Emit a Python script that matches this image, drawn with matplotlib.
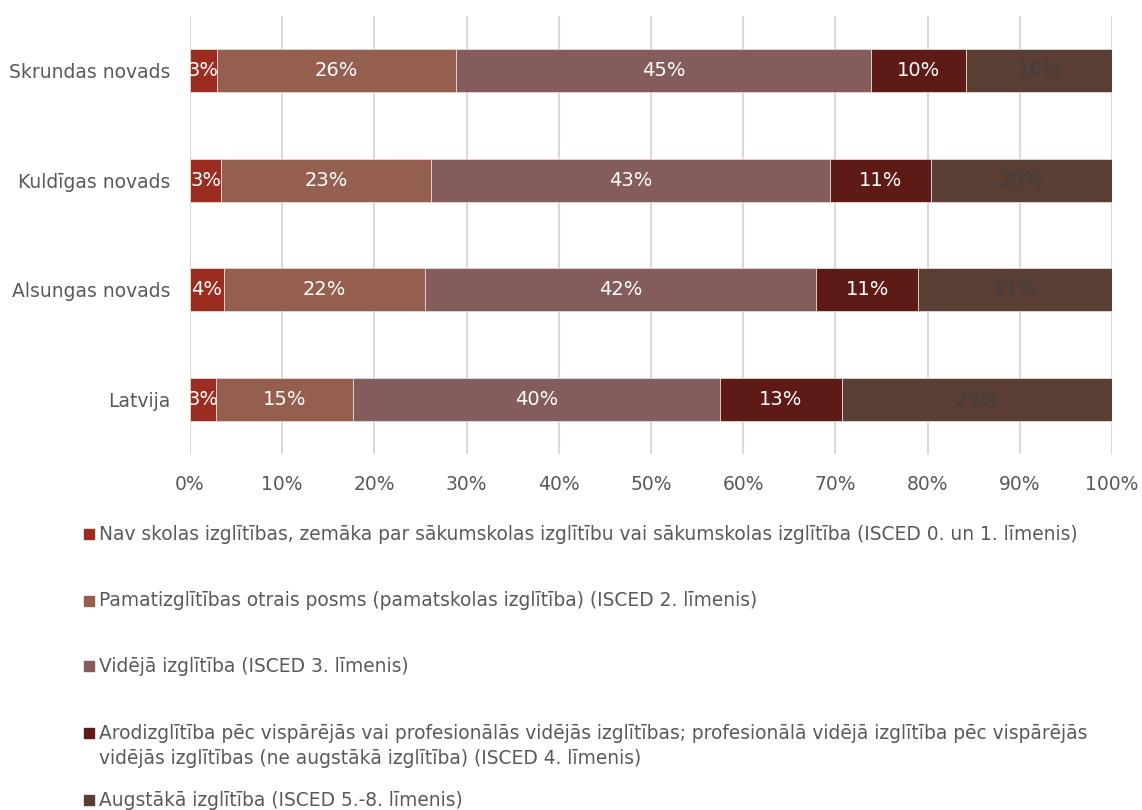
import numpy as np
import matplotlib.pyplot as plt
from matplotlib.patches import Rectangle

plt.rcParams['font.family'] = ['DejaVu Sans']

regions = ['Skrundas novads', 'Kuldīgas novads', 'Alsungas novads', 'Latvija']

levels = [
    'Nav skolas izglītības, zemāka par sākumskolas izglītību vai sākumskolas izglītība (ISCED 0. un 1. līmenis)',
    'Pamatizglītības otrais posms (pamatskolas izglītība) (ISCED 2. līmenis)',
    'Vidējā izglītība (ISCED 3. līmenis)',
    'Arodizglītība pēc vispārējās vai profesionālās vidējās izglītības; profesionālā vidējā izglītība pēc vispārējās\nvidējās izglītības (ne augstākā izglītība) (ISCED 4. līmenis)',
    'Augstākā izglītība (ISCED 5.-8. līmenis)',
]

# shares in percent, order follows regions
no_school = [2.9, 3.4, 3.7, 2.8]
basic = [26.0, 22.7, 21.8, 14.9]
secondary = [45.0, 43.3, 42.4, 39.8]
vocational = [10.3, 11.0, 11.1, 13.2]
higher = [15.8, 19.6, 21.0, 29.3]

colors = ['#9b2d20', '#955f4f', '#845c5c', '#5e1b15', '#5a3d33']
label_colors = ['white', 'white', 'white', 'white', '#404040']

fig = plt.figure(figsize=(11.42, 8.1), dpi=100)
ax = fig.add_axes([190 / 1142, 1 - 454 / 810, 922 / 1142, 438 / 810])

series = [no_school, basic, secondary, vocational, higher]
y = np.arange(len(regions))[::-1]
left = np.zeros(len(regions))
for vals, col, lcol in zip(series, colors, label_colors):
    vals = np.array(vals)
    ax.barh(y, vals, left=left, height=0.39, color=col, edgecolor='#e8d8d4', linewidth=0.6, zorder=3)
    for yi, l, v in zip(y, left, vals):
        ax.text(l + v / 2, yi, '%d%%' % round(v), ha='center', va='center', color=lcol, fontsize=14, zorder=4)
    left += vals

ax.set_xlim(0, 100)
ax.set_ylim(-0.5, len(regions) - 0.5)
ax.set_xticks(np.arange(0, 101, 10))
ax.set_xticklabels(['%d%%' % t for t in range(0, 101, 10)])
ax.set_yticks(y)
ax.set_yticklabels(regions)
ax.tick_params(axis='both', length=0, labelsize=13.5, colors='#595959')
ax.tick_params(axis='x', pad=15)
ax.tick_params(axis='y', pad=14)
ax.grid(axis='x', color='#d9d9d9', linewidth=1.5, zorder=0)
for s in ax.spines.values():
    s.set_visible(False)

# legend drawn by hand
mark_y = [534, 601, 666, 733, 800]
text_y = [534, 601, 666, 746, 800]
for lab, col, my, ty in zip(levels, colors, mark_y, text_y):
    fig.patches.append(Rectangle((84 / 1142, 1 - (my + 5) / 810), 10 / 1142, 10 / 810,
                                 transform=fig.transFigure, color=col, figure=fig))
    fig.text(99 / 1142, 1 - ty / 810, lab, ha='left', va='center', fontsize=13.4,
             color='#595959', linespacing=1.4)

fig.savefig('out.png', dpi=100)
